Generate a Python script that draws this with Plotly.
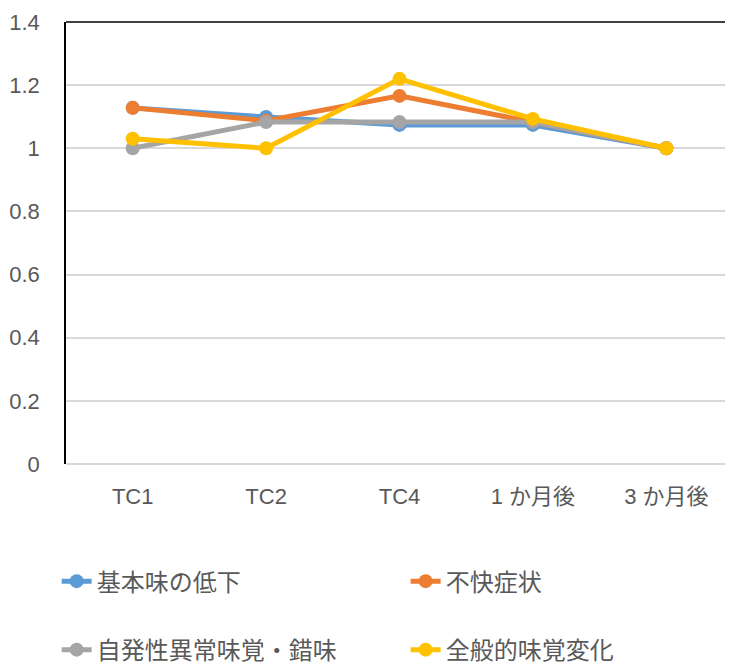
import plotly.graph_objects as go

categories = ["TC1", "TC2", "TC4", "1 か月後", "3 か月後"]
series_names = ["基本味の低下", "不快症状", "自発性異常味覚・錯味", "全般的味覚変化"]
basic = [1.128, 1.099, 1.074, 1.074, 1.0]
discomfort = [1.128, 1.087, 1.166, 1.083, 1.0]
spontaneous = [1.0, 1.083, 1.083, 1.083, 1.0]
general = [1.03, 1.0, 1.22, 1.093, 1.0]
colors = ["#5B9BD5", "#ED7D31", "#A5A5A5", "#FFC000"]
values = [basic, discomfort, spontaneous, general]
legend_ids = ["legend", "legend", "legend2", "legend2"]

FONT = "Liberation Sans, Arial, Noto Sans CJK JP, sans-serif"

fig = go.Figure()
for name, vals, col, lg in zip(series_names, values, colors, legend_ids):
    fig.add_trace(go.Scatter(
        x=categories, y=vals, name=name, mode="lines+markers",
        line=dict(color=col, width=5),
        marker=dict(color=col, size=14),
        legend=lg,
    ))

# page body has an 8px margin; figure sized so the plot lands where the reference has it
fig.update_layout(
    width=725, height=661,
    margin=dict(l=58, r=0, t=14, b=205, autoexpand=False),
    paper_bgcolor="white", plot_bgcolor="white",
    font=dict(family=FONT, size=22, color="#595959"),
    showlegend=True,
    legend=dict(orientation="h", x=-0.014, y=-0.215, xanchor="left", yanchor="top",
                entrywidth=304, entrywidthmode="pixels",
                font=dict(size=24, color="#595959", family=FONT)),
    legend2=dict(orientation="h", x=-0.014, y=-0.37, xanchor="left", yanchor="top",
                 entrywidth=304, entrywidthmode="pixels",
                 font=dict(size=24, color="#595959", family=FONT)),
)
fig.update_xaxes(
    type="category", range=[-0.5, 4.5], showgrid=False, automargin=False,
    showline=False, ticks="", ticklabelstandoff=17,
    tickfont=dict(size=22, color="#595959"),
)
fig.update_yaxes(
    range=[0, 1.4], dtick=0.2, tick0=0, showgrid=True, gridcolor="#D9D9D9", gridwidth=1.5,
    zeroline=True, zerolinecolor="#D9D9D9", zerolinewidth=1.5, automargin=False,
    showline=True, linecolor="black", linewidth=1.5, ticks="",
    ticklabelstandoff=20, tickfont=dict(size=22, color="#595959"),
)
fig.add_shape(type="line", xref="paper", yref="paper", x0=0, x1=1, y0=1, y1=1,
              line=dict(color="black", width=1.5))

fig.write_html("out.html")
